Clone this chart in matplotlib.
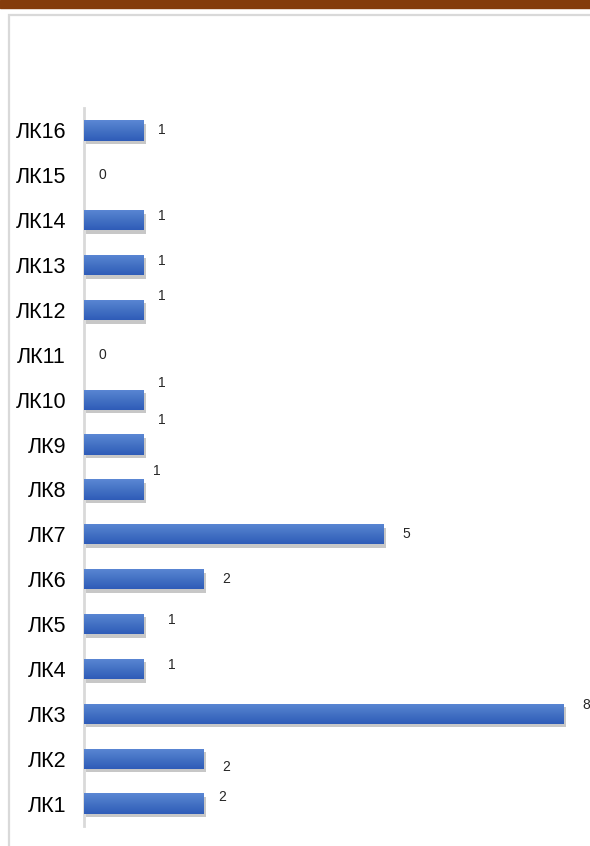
import numpy as np
import matplotlib.pyplot as plt
import matplotlib.patches as mpatches
import matplotlib.patheffects as pe
from matplotlib.colors import LinearSegmentedColormap

categories = ['ЛК1', 'ЛК2', 'ЛК3', 'ЛК4', 'ЛК5', 'ЛК6', 'ЛК7', 'ЛК8',
              'ЛК9', 'ЛК10', 'ЛК11', 'ЛК12', 'ЛК13', 'ЛК14', 'ЛК15', 'ЛК16']
values = [2, 2, 8, 1, 1, 2, 5, 1, 1, 1, 0, 1, 1, 1, 0, 1]

# label nudges in points (the original labels sit a bit off the bar centres)
label_dx = [13, 16, 16, 20, 20, 16, 16, 9, 13, 13, 13, 13, 13, 13, 13, 13]
label_dy = [5, -6, 6, 3, 3, 0, 0, 13, 18, 12, 0, 10, 3, 3, 0, 0]

plt.rcParams['font.family'] = ['Liberation Sans', 'DejaVu Sans']

fig = plt.figure(figsize=(5.9, 8.46), dpi=100)

# brown strip on top and the light frame of the chart area
fig.patches.append(mpatches.Rectangle((0, 1 - 8 / 846), 1, 8 / 846,
                                      transform=fig.transFigure,
                                      color='#843c0c', zorder=0))
fig.patches.append(mpatches.Rectangle((9 / 590, -0.01), 1, 1 - 15 / 846 + 0.01,
                                      transform=fig.transFigure, fill=False,
                                      edgecolor='#d9d9d9', linewidth=1.6, zorder=0))

ax = fig.add_axes([84 / 590, 20 / 846, 1 - 84 / 590, 718 / 846])
y = range(len(categories))
bars = ax.barh(y, values, height=0.45, color='#4472c4', zorder=2)

# light on top, darker at the bottom
grad = LinearSegmentedColormap.from_list('g', ['#5b87d4', '#4472c4', '#2f5cb8'])
shade = np.linspace(0, 1, 50).reshape(-1, 1)
for b in bars:
    if b.get_width() == 0:
        continue
    b.set_path_effects([pe.SimplePatchShadow(offset=(1.5, -2.5), shadow_rgbFace='#000000',
                                             alpha=0.22), pe.Normal()])
    x0, y0 = b.get_x(), b.get_y()
    im = ax.imshow(shade, cmap=grad, aspect='auto', zorder=3,
                   extent=(x0, x0 + b.get_width(), y0, y0 + b.get_height()),
                   origin='upper')
    im.set_clip_path(b)

for i, v in enumerate(values):
    ax.annotate(str(v), (v, i), xytext=(label_dx[i], label_dy[i]),
                textcoords='offset points', ha='center', va='center',
                fontsize=10, color='#262626')

ax.set_xlim(0, 506 / 60)
ax.set_ylim(-0.5, len(categories) - 0.5)
ax.set_yticks(list(y))
ax.set_yticklabels(categories, fontsize=15.5, color='black')
ax.tick_params(axis='y', length=0, pad=13)
ax.set_xticks([])
for s in ['top', 'right', 'bottom']:
    ax.spines[s].set_visible(False)
ax.spines['left'].set_color('#d9d9d9')
ax.spines['left'].set_linewidth(2)

fig.savefig('out.png', dpi=100)
